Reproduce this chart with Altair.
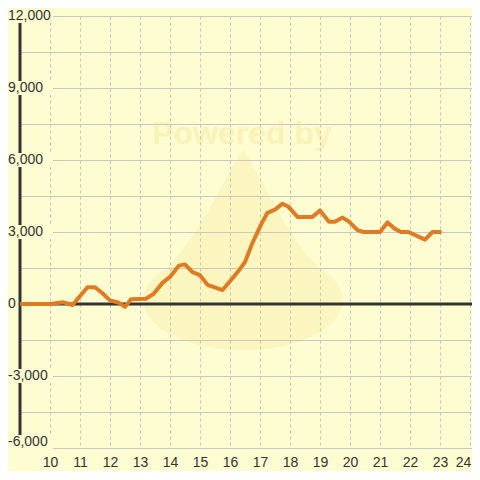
import altair as alt
import pandas as pd

# ---- data ----
hours = [9.0, 10.0, 10.45, 10.75, 11.25, 11.5, 11.75, 12.0, 12.3, 12.5, 12.7, 13.2,
         13.45, 13.75, 14.0, 14.3, 14.5, 14.75, 15.0, 15.25, 15.75, 16.0, 16.33, 16.5,
         16.75, 17.05, 17.25, 17.5, 17.75, 17.95, 18.25, 18.75, 19.0, 19.3, 19.5, 19.75,
         19.95, 20.25, 20.45, 21.0, 21.25, 21.5, 21.7, 21.95, 22.5, 22.75, 23.05]
values = [0, 0, 70, -40, 700, 700, 450, 150, 50, -120, 200, 220,
          420, 880, 1130, 1600, 1650, 1330, 1200, 800, 580, 950, 1450, 1750,
          2550, 3350, 3800, 3930, 4180, 4050, 3630, 3630, 3900, 3430, 3430, 3600,
          3450, 3080, 3000, 3000, 3400, 3130, 3000, 3000, 2680, 3000, 3000]

x_ticks = list(range(10, 25))
y_grid = list(range(-6000, 12001, 1500))
y_ticks = [12000, 9000, 6000, 3000, 0, -3000, -6000]
y_labels = ["12,000", "9,000", "6,000", "3,000", "0", "-3,000", "-6,000"]

BG = "#fdfdd1"
LINE = "#e07b24"
DARK = "#333333"
GRID = "#c8c8c8"
FONT = "Liberation Sans"

X_DOMAIN = [9, 9 + 452 / 30]
Y_DOMAIN = [-6000, 12000]

line_df = pd.DataFrame({"hour": hours, "value": values})
lab_df = pd.DataFrame({"v": y_ticks, "label": y_labels})

xs = alt.Scale(domain=X_DOMAIN, nice=False, zero=False)
ys = alt.Scale(domain=Y_DOMAIN, nice=False, zero=False)

x_axis = alt.Axis(values=x_ticks, grid=True, gridDash=[3, 3], gridColor="#c4c4c4",
                  gridWidth=1, domain=False, ticks=False, labelFontSize=14,
                  labelFont=FONT, labelColor=DARK, labelPadding=7,
                  labelFlush=False, title=None,
                  labelOffset=alt.ExprRef(expr="datum.value == 24 ? -7 : 0"))
y_axis = alt.Axis(values=y_grid, grid=True, gridColor=GRID, gridWidth=1,
                  domain=False, ticks=False, labels=False, title=None)


def X(field):
    return alt.X(field, scale=xs, axis=x_axis, title=None)


def Y(field):
    return alt.Y(field, scale=ys, axis=y_axis, title=None)


# watermark (faint logo + text)
wm_shape = ("M 0 -1.5 C 0.15 -1.3 0.4 -0.7 0.75 -0.33 A 1 0.5 0 1 1 -0.75 -0.33 "
            "C -0.4 -0.7 -0.15 -1.3 0 -1.5 Z")
watermark = alt.Chart(pd.DataFrame({"a": [0]})).mark_point(
    shape=wm_shape, filled=True, fill="#f0c850", opacity=0.13, strokeWidth=0, size=40000
).encode(x=alt.value(223), y=alt.value(284))

wm_text = alt.Chart(pd.DataFrame({"t": ["Powered by"]})).mark_text(
    font=FONT, fontSize=32, fontWeight="bold", color="#f0d060", opacity=0.22,
    align="center", baseline="middle"
).encode(x=alt.value(222), y=alt.value(118), text="t:N")

# main line
line = alt.Chart(line_df).mark_line(
    color=LINE, strokeWidth=4, strokeJoin="round", strokeCap="butt"
).encode(x=X("hour:Q"), y=Y("value:Q"))

# left axis line and zero line
axis_rule = alt.Chart(pd.DataFrame({"x": [9], "y": [-6000], "y2": [12000]})).mark_rule(
    color=DARK, strokeWidth=3
).encode(x=X("x:Q"), y=Y("y:Q"), y2="y2:Q")

zero_rule = alt.Chart(pd.DataFrame({"x": [9], "x2": [X_DOMAIN[1]], "y": [0]})).mark_rule(
    color=DARK, strokeWidth=3
).encode(x=X("x:Q"), x2="x2:Q", y=Y("y:Q"))

# label background boxes
box_shape = "M -1 -0.29 L 1 -0.29 L 1 0.29 L -1 0.29 Z"
boxes_main = alt.Chart(lab_df).transform_filter(
    "datum.v != 0 && datum.v != -6000"
).mark_point(shape=box_shape, filled=True, fill=BG, opacity=1, strokeWidth=0, size=2304).encode(
    x=alt.value(9), y=Y("v:Q")
)
boxes_bottom = alt.Chart(lab_df).transform_filter("datum.v == -6000").mark_point(
    shape=box_shape, filled=True, fill=BG, opacity=1, strokeWidth=0, size=2304, yOffset=-6
).encode(x=alt.value(9), y=Y("v:Q"))

labels_main = alt.Chart(lab_df).transform_filter("datum.v != -6000").mark_text(
    font=FONT, fontSize=14, color=DARK, align="left", baseline="middle"
).encode(x=alt.value(-12), y=Y("v:Q"), text="label:N")
labels_bottom = alt.Chart(lab_df).transform_filter("datum.v == -6000").mark_text(
    font=FONT, fontSize=14, color=DARK, align="left", baseline="middle", yOffset=-6
).encode(x=alt.value(-12), y=Y("v:Q"), text="label:N")

chart = alt.layer(
    watermark, wm_text, axis_rule, zero_rule, boxes_main, boxes_bottom,
    line, labels_main, labels_bottom
).properties(
    width=452, height=432,
    padding={"left": 12, "top": 8, "right": 0, "bottom": 23},
    autosize=alt.AutoSizeParams(type="none"),
    background=BG,
).configure_view(fill=BG, strokeWidth=0)

chart.save("out.html", embed_options={"renderer": "svg", "actions": False})
